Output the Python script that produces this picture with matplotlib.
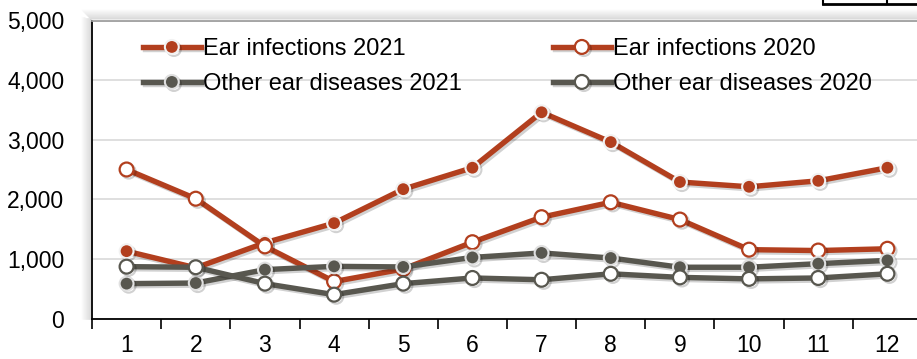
import matplotlib
matplotlib.use("Agg")
from matplotlib import pyplot as plt
from matplotlib.lines import Line2D
import matplotlib.patheffects as pe
import numpy as np

plt.rcParams['font.family'] = ['Liberation Sans', 'DejaVu Sans']

months = [1, 2, 3, 4, 5, 6, 7, 8, 9, 10, 11, 12]
ear_2021 = [1130, 850, 1270, 1600, 2170, 2530, 3460, 2960, 2290, 2210, 2310, 2530]
ear_2020 = [2500, 2010, 1210, 620, 830, 1280, 1700, 1950, 1660, 1155, 1140, 1170]
other_2021 = [585, 595, 820, 875, 865, 1025, 1100, 1015, 860, 860, 920, 975]
other_2020 = [870, 860, 585, 400, 585, 680, 650, 750, 690, 665, 680, 750]

RED = '#B23F1E'
GRAY = '#58574F'

fig = plt.figure(figsize=(9.17, 3.59), dpi=100)
ax = fig.add_axes([92/917, 40.5/359, 830/917, 298/359])

# shadow around the plot frame
for i in range(10):
    a = 0.09 * (1 - i / 10)
    fig.add_artist(Line2D([(91 - i)/917, (91 - i)/917], [40/359, (339 + i*0.3)/359],
                          transform=fig.transFigure, color='black', alpha=a, lw=1.2))
    fig.add_artist(Line2D([(91 - i)/917, 1], [(340 + i)/359, (340 + i)/359],
                          transform=fig.transFigure, color='black', alpha=a, lw=1.2))

shadow = [pe.SimpleLineShadow(offset=(1.5, -1.5), shadow_color='black', alpha=0.18), pe.Normal()]

l1, = ax.plot(months, ear_2021, color=RED, lw=3.9, marker='o', ms=10,
              mfc=RED, mec='#F2F2F2', mew=1.5, label='Ear infections 2021', zorder=3)
l2, = ax.plot(months, ear_2020, color=RED, lw=3.9, marker='o', ms=10,
              mfc='white', mec=RED, mew=1.6, label='Ear infections 2020', zorder=3)
l3, = ax.plot(months, other_2021, color=GRAY, lw=3.9, marker='o', ms=10,
              mfc=GRAY, mec='#E0E0E0', mew=1.5, label='Other ear diseases 2021', zorder=3)
l4, = ax.plot(months, other_2020, color=GRAY, lw=3.9, marker='o', ms=10,
              mfc='white', mec=GRAY, mew=1.6, label='Other ear diseases 2020', zorder=3)
for l in (l1, l2, l3, l4):
    l.set_path_effects(shadow)

ax.set_xlim(0.5, 12.5)
ax.set_ylim(0, 5000)
ax.set_yticks([0, 1000, 2000, 3000, 4000, 5000])
ax.set_yticklabels(['0', '1,000', '2,000', '3,000', '4,000', '5,000'])
ax.set_xticks(months)
ax.set_xticks(np.arange(0.5, 13, 1), minor=True)
ax.tick_params(axis='x', which='major', length=0, pad=11, labelsize=16.5)
ax.tick_params(axis='x', which='minor', length=7, width=1.2, direction='out', color='black')
ax.tick_params(axis='y', length=0, pad=20, labelsize=16.5)

ax.grid(axis='y', color='#D9D9D9', lw=1.2)
ax.set_axisbelow(True)
ax.spines['left'].set_color('black')
ax.spines['left'].set_linewidth(1.3)
ax.spines['bottom'].set_color('black')
ax.spines['bottom'].set_linewidth(1.3)
ax.spines['top'].set_color('#A0A0A0')
ax.spines['top'].set_linewidth(1.3)
ax.spines['right'].set_visible(False)

ax.legend(handles=[l1, l3, l2, l4], ncol=2, frameon=False, fontsize=17,
          loc='upper left', bbox_to_anchor=(0.04, 1.0), handlelength=2.45,
          handletextpad=0.1, columnspacing=3.85, labelspacing=0.55,
          borderaxespad=0.35)

# fragment of a table box at the top right
fig.add_artist(Line2D([823/917, 1], [355/359, 355/359], transform=fig.transFigure, color='black', lw=2))
fig.add_artist(Line2D([823/917, 823/917], [355/359, 1], transform=fig.transFigure, color='black', lw=1.5))
fig.add_artist(Line2D([887/917, 887/917], [355/359, 1], transform=fig.transFigure, color='black', lw=1.5))

plt.savefig('out.png', dpi=100)
